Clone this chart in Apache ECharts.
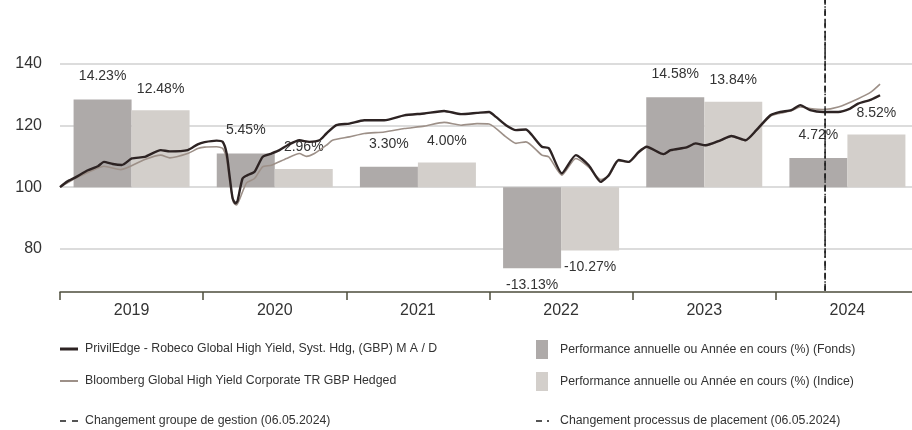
<!DOCTYPE html>
<html>
<head>
<meta charset="utf-8">
<script src="https://cdn.jsdelivr.net/npm/echarts@6/dist/echarts.min.js"></script>
<style>
html,body{margin:0;padding:0;background:#fff;}
#chart{width:912px;height:430px;}
</style>
</head>
<body>
<div id="chart"></div>
<script>
// ---- Data ----
const years = ['2019', '2020', '2021', '2022', '2023', '2024'];
const fundAnnual = [14.23, 5.45, 3.30, -13.13, 14.58, 4.72];
const indexAnnual = [12.48, 2.96, 4.00, -10.27, 13.84, 8.52];
const yTickLabels = [80, 100, 120, 140];

// Cumulative performance (rebased 100), time in decimal years
const fundTime = [2019.000,2019.049,2019.105,2019.195,2019.265,2019.307,2019.369,2019.432,2019.502,2019.592,2019.704,2019.767,2019.892,2019.962,2020.010,2020.094,2020.136,2020.164,2020.185,2020.206,2020.226,2020.240,2020.275,2020.310,2020.359,2020.415,2020.477,2020.533,2020.589,2020.672,2020.742,2020.812,2020.861,2020.930,2021.021,2021.125,2021.265,2021.404,2021.544,2021.683,2021.801,2021.913,2021.997,2022.045,2022.115,2022.185,2022.254,2022.296,2022.366,2022.415,2022.505,2022.603,2022.693,2022.777,2022.833,2022.902,2022.972,2023.042,2023.098,2023.216,2023.265,2023.376,2023.439,2023.509,2023.613,2023.690,2023.787,2023.864,2023.962,2024.031,2024.108,2024.171,2024.240,2024.331,2024.436,2024.519,2024.575,2024.666,2024.728];
const fundValue = [100,101.8,103.1,105.5,106.8,108.2,107.5,107.2,109.3,109.8,112.0,111.6,112.0,113.9,114.6,115.1,114.7,110.9,103.4,96.3,94.8,95.5,102.8,103.9,105.0,109.8,110.9,112.0,113.6,115.2,114.7,115.2,117.4,120.1,120.6,121.7,121.7,123.3,123.9,124.7,123.7,124.1,124.4,122.8,120.1,118.5,118.7,116.9,113.1,112.6,104.5,110.4,107.1,101.7,103.9,108.8,108.2,111.4,113.1,110.7,112.0,112.9,114.2,113.6,115.2,116.6,115.2,118.5,123.3,124.4,125.0,126.6,125.0,124.4,124.4,125.5,127.1,128.4,129.8];

const indexTime = [2019.000,2019.105,2019.265,2019.307,2019.425,2019.592,2019.704,2019.767,2019.892,2019.962,2020.010,2020.094,2020.136,2020.164,2020.185,2020.212,2020.233,2020.254,2020.303,2020.359,2020.415,2020.477,2020.582,2020.672,2020.721,2020.777,2020.861,2020.903,2021.021,2021.125,2021.265,2021.404,2021.544,2021.683,2021.801,2021.913,2021.997,2022.115,2022.185,2022.254,2022.366,2022.415,2022.505,2022.603,2022.693,2022.777,2022.833,2022.902,2022.972,2023.042,2023.098,2023.216,2023.265,2023.376,2023.439,2023.509,2023.613,2023.690,2023.787,2023.864,2023.962,2024.031,2024.108,2024.171,2024.240,2024.331,2024.436,2024.575,2024.666,2024.728];
const indexValue = [100,102.8,106.2,106.8,105.7,109.0,110.4,109.5,110.9,112.5,113.0,113.1,112.6,109.0,102.0,95.0,94.2,96.0,101.4,102.8,106.6,107.1,109.3,110.9,110.0,110.9,113.6,115.2,116.3,117.4,117.9,119.0,119.8,121.0,120.1,120.6,120.5,116.3,114.2,114.7,110.4,109.8,103.9,109.3,106.5,102.5,103.6,108.6,108.1,111.2,113.0,110.6,111.9,112.8,114.1,113.5,115.1,116.5,115.1,118.3,123.0,124.0,124.8,126.0,125.5,125.2,126.0,128.7,130.9,133.4];

const changeDate = 2024.344; // 06.05.2024

const names = {
  fund: 'PrivilEdge - Robeco Global High Yield, Syst. Hdg, (GBP) M A / D',
  index: 'Bloomberg Global High Yield Corporate TR GBP Hedged',
  fundBar: 'Performance annuelle ou Année en cours (%) (Fonds)',
  indexBar: 'Performance annuelle ou Année en cours (%) (Indice)',
  mgmt: 'Changement groupe de gestion (06.05.2024)',
  process: 'Changement processus de placement (06.05.2024)'
};

// ---- Layout constants ----
const Y_MIN = 66, Y_MAX = 160.7;        // left (index) axis
const B_MIN = (Y_MIN - 100) / 2, B_MAX = (Y_MAX - 100) / 2; // bar axis, 1% = 2 index pts
const FONT = '"Liberation Sans", Arial, sans-serif';

const c = {
  fundLine: '#2d2323', indexLine: '#9d9088',
  fundBar: '#aeaaa9', indexBar: '#d3cfcb',
  grid: '#dcdcdc', axis: '#4e4e3c', text: '#333333', marker: '#1e1e1e'
};

function pair(t, v) { return t.map((x, i) => [x, v[i]]); }

function barData(vals) {
  return vals.map(v => (v < 0 ? { value: v, label: { position: 'bottom', distance: 10 } } : { value: v }));
}

const ICON_DASH = 'path://M0,0H6V1.6H0Z M12,0H18V1.6H12Z';
const ICON_DASHDOT = 'path://M0,0H6V1.6H0Z M11,0H13V1.6H11Z';

const chart = echarts.init(document.getElementById('chart'), null, { renderer: 'canvas' });

function legendItem(name, icon, left, top, w, h, color, textLeft) {
  return {
    data: [{ name: name, icon: icon, itemStyle: { color: color, borderWidth: 0 } }],
    left: left, top: top, itemWidth: w, itemHeight: h,
    padding: 0, itemGap: 0, selectedMode: false,
    textStyle: { fontFamily: FONT, fontSize: 12.3, color: c.text, padding: [0, 0, 0, textLeft - left - w - 5] }
  };
}

chart.setOption({
  animation: false,
  backgroundColor: '#ffffff',
  grid: { left: 60, top: 0, width: 859, height: 292, outerBoundsMode: 'none', containLabel: false },
  xAxis: [
    {
      type: 'category', data: years, gridIndex: 0,
      axisLine: { show: true, onZero: false, lineStyle: { color: c.axis, width: 1.5 } },
      axisTick: { show: true, length: 8, lineStyle: { color: c.axis, width: 1.5 } },
      axisLabel: { fontFamily: FONT, fontSize: 16, color: c.text, margin: 11 },
      splitLine: { show: false }
    },
    { type: 'value', min: 2019, max: 2025, show: false, gridIndex: 0 }
  ],
  yAxis: [
    {
      type: 'value', min: Y_MIN, max: Y_MAX,
      axisLine: { show: false }, axisTick: { show: false }, splitLine: { show: false },
      axisLabel: { customValues: yTickLabels, fontFamily: FONT, fontSize: 16, color: c.text, margin: 18 }
    },
    { type: 'value', min: B_MIN, max: B_MAX, show: false, splitLine: { show: false } }
  ],
  legend: [
    legendItem(names.fund, 'rect', 60, 343, 18, 3, c.fundLine, 85),
    legendItem(names.index, 'rect', 60, 375, 18, 2, c.indexLine, 85),
    legendItem(names.mgmt, ICON_DASH, 60, 415, 18, 1.6, c.marker, 85),
    legendItem(names.fundBar, 'rect', 536, 340, 12, 19, c.fundBar, 560),
    legendItem(names.indexBar, 'rect', 536, 372, 12, 19, c.indexBar, 560),
    legendItem(names.process, ICON_DASHDOT, 536, 415, 13, 1.6, c.marker, 560)
  ],
  series: [
    {
      name: names.fundBar, type: 'bar', xAxisIndex: 0, yAxisIndex: 1,
      data: barData(fundAnnual), barWidth: 58, barGap: '0%', z: 2,
      itemStyle: { color: c.fundBar },
      label: { show: true, position: 'top', distance: 16, formatter: p => p.value.toFixed(2) + '%', fontFamily: FONT, fontSize: 14, color: c.text }
    },
    {
      name: names.indexBar, type: 'bar', xAxisIndex: 0, yAxisIndex: 1,
      data: barData(indexAnnual), barWidth: 58, barGap: '0%', z: 2,
      itemStyle: { color: c.indexBar },
      label: { show: true, position: 'top', distance: 14.5, formatter: p => p.value.toFixed(2) + '%', fontFamily: FONT, fontSize: 14, color: c.text }
    },
    {
      name: '__grid', type: 'line', xAxisIndex: 1, yAxisIndex: 0, data: [], z: 1,
      markLine: {
        silent: true, symbol: 'none', z: 1, animation: false,
        label: { show: false },
        lineStyle: { color: c.grid, width: 2, type: 'solid' },
        data: yTickLabels.map(v => ({ yAxis: v }))
      }
    },
    {
      name: names.index, type: 'line', xAxisIndex: 1, yAxisIndex: 0, z: 3,
      data: pair(indexTime, indexValue), symbol: 'none', smooth: 0.2,
      lineStyle: { color: c.indexLine, width: 1.6 }, itemStyle: { color: c.indexLine }
    },
    {
      name: names.fund, type: 'line', xAxisIndex: 1, yAxisIndex: 0, z: 4,
      data: pair(fundTime, fundValue), symbol: 'none', smooth: 0.2,
      lineStyle: { color: c.fundLine, width: 2.4 }, itemStyle: { color: c.fundLine }
    },
    {
      name: names.mgmt, type: 'line', xAxisIndex: 1, yAxisIndex: 0, z: 5,
      data: [[changeDate, Y_MIN + 0.4], [changeDate, Y_MAX]], symbol: 'none',
      lineStyle: { color: c.marker, width: 1.5, type: [7, 4] }, itemStyle: { color: c.marker }
    },
    {
      name: names.process, type: 'line', xAxisIndex: 1, yAxisIndex: 0, z: 5,
      data: [[changeDate, Y_MIN + 0.4], [changeDate, Y_MAX]], symbol: 'none',
      lineStyle: { color: c.marker, width: 1.5, type: [5, 3, 1.5, 3] }, itemStyle: { color: c.marker }
    }
  ]
});
</script>
</body>
</html>
